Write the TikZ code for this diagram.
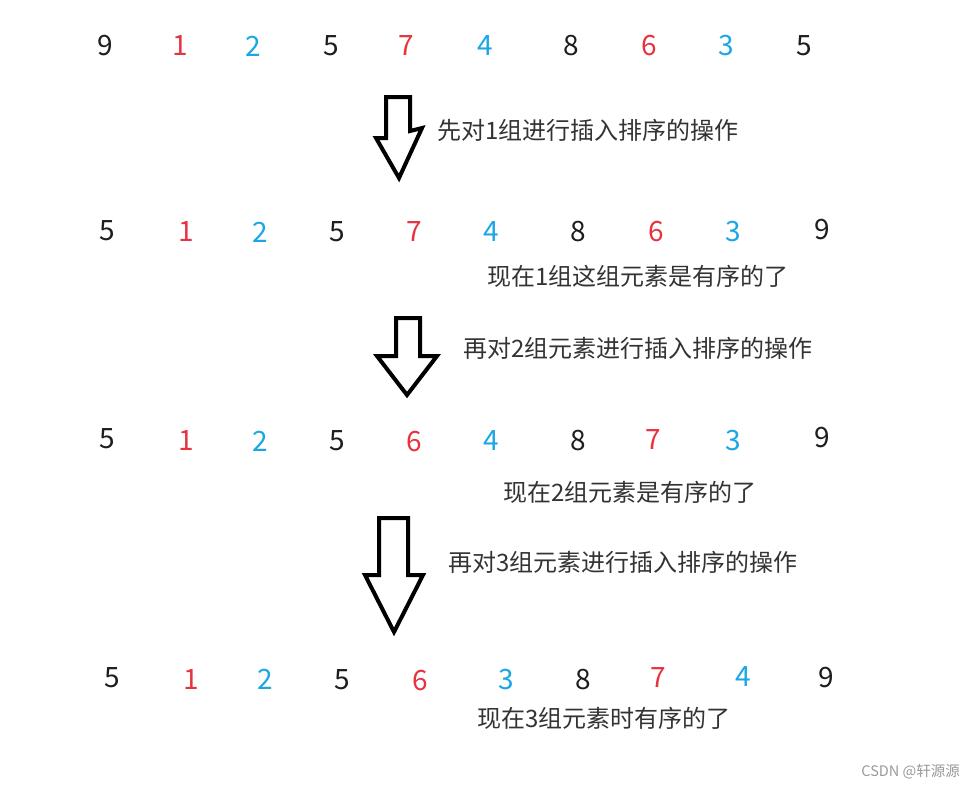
\documentclass[tikz,border=0pt]{standalone}
\usepackage{fontspec}
\setmainfont{Noto Sans CJK SC}
\newfontfamily\cjkfont{Noto Sans CJK SC}
\definecolor{numred}{HTML}{E8333F}
\definecolor{numblue}{HTML}{1BA6E6}
\definecolor{numblack}{HTML}{1E1E1E}
\definecolor{txtgray}{HTML}{333333}
\definecolor{wmgray}{HTML}{9A9A9A}
\begin{document}
\begin{tikzpicture}[x=1pt,y=-1pt,
  num/.style={inner sep=0pt,font=\fontsize{28}{28}\selectfont},
  nk/.style={num,text=numblack},
  nr/.style={num,text=numred},
  nb/.style={num,text=numblue},
  note/.style={inner sep=0pt,anchor=west,text=txtgray,font=\cjkfont\fontsize{24}{24}\selectfont},
  arrowshape/.style={draw=black,line width=4pt,fill=white,line join=miter},
  wm/.style={inner sep=0pt,anchor=east,text=wmgray,font=\cjkfont\fontsize{14.5}{15}\selectfont}]
\useasboundingbox[fill=white] (0,0) rectangle (976,788);
% row 1
\node[nk] (r1a) at (105,46) {9};
\node[nr] (r1b) at (180,46) {1};
\node[nb] (r1c) at (253,46) {2};
\node[nk] (r1d) at (331,46) {5};
\node[nr] (r1e) at (406,46) {7};
\node[nb] (r1f) at (485,46) {4};
\node[nk] (r1g) at (571,46) {8};
\node[nr] (r1h) at (649,46) {6};
\node[nb] (r1i) at (726,46) {3};
\node[nk] (r1j) at (804,46) {5};
% arrow 1
\draw[arrowshape] (386,97) -- (410,97) -- (410,131) -- (422,128) -- (399,178) -- (376,138) -- (386,138) -- cycle;
\node[note] (t1) at (437,130) {先对1组进行插入排序的操作};
% row 2
\node[nk] (r2a) at (107,231) {5};
\node[nr] (r2b) at (186,232) {1};
\node[nb] (r2c) at (260,232) {2};
\node[nk] (r2d) at (337,232) {5};
\node[nr] (r2e) at (414,232) {7};
\node[nb] (r2f) at (491,232) {4};
\node[nk] (r2g) at (578,232) {8};
\node[nr] (r2h) at (656,232) {6};
\node[nb] (r2i) at (733,232) {3};
\node[nk] (r2j) at (822,230) {9};
\node[note] (t2) at (487,276) {现在1组这组元素是有序的了};
% arrow 2
\draw[arrowshape] (396,318) -- (420,318) -- (420,356) -- (437,356) -- (407,395) -- (377,356) -- (396,356) -- cycle;
\node[note] (t3) at (463,348) {再对2组元素进行插入排序的操作};
% row 3
\node[nk] (r3a) at (107,439) {5};
\node[nr] (r3b) at (186,441) {1};
\node[nb] (r3c) at (260,441) {2};
\node[nk] (r3d) at (337,441) {5};
\node[nr] (r3e) at (414,442) {6};
\node[nb] (r3f) at (491,441) {4};
\node[nk] (r3g) at (578,441) {8};
\node[nr] (r3h) at (653,440) {7};
\node[nb] (r3i) at (733,441) {3};
\node[nk] (r3j) at (822,438) {9};
\node[note] (t4) at (503,492) {现在2组元素是有序的了};
% arrow 3
\draw[arrowshape] (379,518) -- (408,518) -- (408,575) -- (423,575) -- (394,632) -- (365,575) -- (379,575) -- cycle;
\node[note] (t5) at (448,562) {再对3组元素进行插入排序的操作};
% row 4
\node[nk] (r4a) at (112,678) {5};
\node[nr] (r4b) at (191,680) {1};
\node[nb] (r4c) at (265,679) {2};
\node[nk] (r4d) at (342,680) {5};
\node[nr] (r4e) at (420,681) {6};
\node[nb] (r4f) at (506,680) {3};
\node[nk] (r4g) at (583,680) {8};
\node[nr] (r4h) at (658,678) {7};
\node[nb] (r4i) at (743,677) {4};
\node[nk] (r4j) at (826,678) {9};
\node[note] (t6) at (477,718) {现在3组元素时有序的了};
% watermark
\node[wm] (wmk) at (960,772) {CSDN @轩源源};
\end{tikzpicture}
\end{document}
